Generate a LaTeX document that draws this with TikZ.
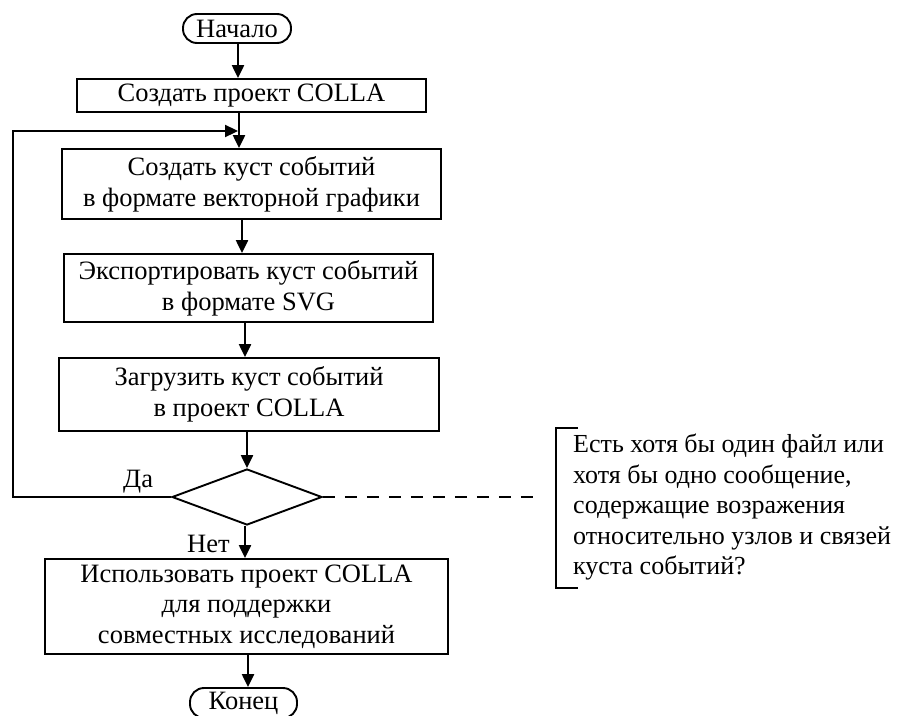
\documentclass[tikz,border=0pt]{standalone}
\usepackage{fontspec}
\setmainfont{Liberation Serif}
\usetikzlibrary{arrows.meta,shapes.geometric}
\begin{document}
\begin{tikzpicture}[x=1pt,y=-1pt,
  every node/.style={font=\fontsize{26.5}{30.7}\selectfont},
  box/.style={draw, line width=1.9pt, align=center, inner sep=0pt},
  term/.style={draw, line width=1.9pt, rounded corners=14pt, inner sep=0pt},
  arr/.style={line width=2.3pt, -{Triangle[length=13pt,width=12pt]}},
  lbl/.style={inner sep=0pt, anchor=base west}]
\useasboundingbox (0,0) rectangle (901,715);
% nodes
\node[term, minimum width=108pt, minimum height=29pt] (start) at (237,28.5) {Начало};
\node[box, minimum width=349pt, minimum height=33pt] (b1) at (251.5,95.5) {Создать проект COLLA};
\node[box, minimum width=379pt, minimum height=70pt] (b2) at (251.5,184) {Создать куст событий\\в формате векторной графики};
\node[box, minimum width=369pt, minimum height=68pt] (b3) at (248.5,288) {Экспортировать куст событий\\в формате SVG};
\node[box, minimum width=380pt, minimum height=73pt] (b4) at (249,394.5) {Загрузить куст событий\\в проект COLLA};
\node[diamond, draw, line width=1.9pt, minimum width=150pt, minimum height=56pt, inner sep=0pt] (dec) at (247,497) {};
\node[box, minimum width=403pt, minimum height=95pt] (b5) at (246.5,606.5) {Использовать проект COLLA\\для поддержки\\совместных исследований};
\node[term, minimum width=107pt, minimum height=30pt] (end) at (243.5,703) {Конец};
\node[lbl] (da) at (123,487) {Да};
\node[lbl] (net) at (187,552) {Нет};
\node[inner sep=0pt, anchor=north west, align=left, font=\fontsize{26}{30.5}\selectfont] (note) at (573,434) {Есть хотя бы один файл или\\хотя бы одно сообщение,\\содержащие возражения\\относительно узлов и связей\\куста событий?};
% spine x positions
\coordinate (s1) at (238,0);
\coordinate (s2) at (239,0);
\coordinate (s3) at (242,0);
\coordinate (s4) at (245,0);
\coordinate (s5) at (247,0);
\coordinate (s6) at (245,0);
\coordinate (s7) at (248,0);
% connectors
\draw[arr] (start.south -| s1) -- (b1.north -| s1);
\draw[arr] (b1.south -| s2) -- (b2.north -| s2);
\draw[arr] (b2.south -| s3) -- (b3.north -| s3);
\draw[arr] (b3.south -| s4) -- (b4.north -| s4);
\draw[arr] (b4.south -| s5) -- (dec.north);
\draw[arr] (dec.south -| s6) -- (b5.north -| s6);
\draw[arr] (b5.south -| s7) -- (end.north -| s7);
% loop back
\coordinate (lp1) at (13,497);
\coordinate (lp2) at (13,131);
\coordinate (lpj) at (238,131);
\draw[arr] (dec.west) -- (lp1) -- (lp2) -- (lpj);
% dashed link to note
\coordinate (dend) at (535,497);
\draw[line width=1.9pt, dash pattern=on 12pt off 10pt] (dec.east) -- (dend);
% bracket
\draw[line width=1.9pt] (578,428) -- (556,428) -- (556,588) -- (578,588);
\end{tikzpicture}
\end{document}
